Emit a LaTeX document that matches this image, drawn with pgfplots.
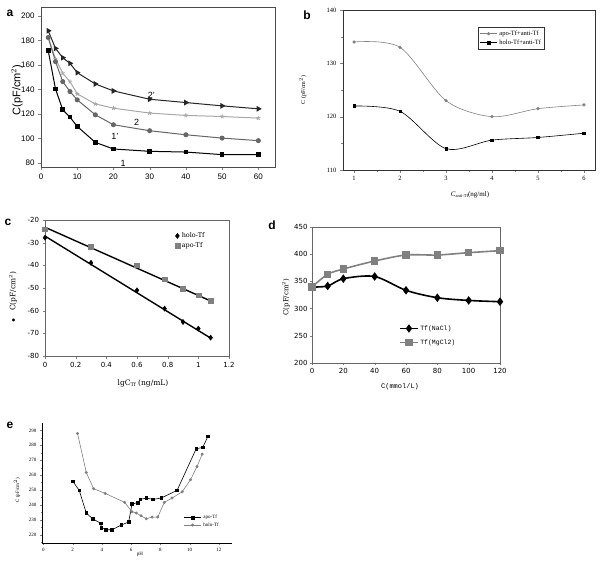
\documentclass[border=0pt]{standalone}
\usepackage{pgfplots}
\pgfplotsset{compat=1.18}
\usepackage{fontspec}
\setmainfont{Liberation Sans}
\newfontfamily\serifb{Liberation Serif}
\newfontfamily\monof{Liberation Mono}
\newfontfamily\dvs{DejaVu Sans}
\newfontfamily\dvserif{DejaVu Serif}
\definecolor{mgray}{HTML}{808080}
\definecolor{dgray}{HTML}{666666}
\definecolor{lgray}{HTML}{A8A8A8}
\begin{document}
\begin{tikzpicture}
\path[use as bounding box] (0pt,0pt) rectangle (600pt,563pt);
% ---------------- panel a
\begin{axis}[at={(41pt,396pt)}, anchor=south west, scale only axis,
  width=234pt, height=160pt,
  xmin=0, xmax=64.6, ymin=76.7, ymax=207.3,
  xtick={0,10,...,60}, ytick={80,100,...,200},
  tick align=outside, xtick pos=bottom, ytick pos=left,
  axis line style={black!70}, major tick length=3pt,
  /pgf/number format/assume math mode=true,
  tick label style={font=\fontsize{8}{9}\selectfont},
  every axis plot/.append style={line width=1pt}]
\addplot[black, mark=square*, mark size=1.8pt] coordinates {
 (2,171.6) (4,140.4) (6,123.4) (8,117.4) (10,109.8) (15,96.8) (20,91.4) (30,89.5) (40,88.9) (50,86.8) (60,86.8)};
\addplot[lgray, mark=star, mark size=2.2pt, mark options={lgray, line width=0.8pt}] coordinates {
 (2,182.4) (4,165) (6,153.2) (8,146.4) (10,136.4) (15,128.2) (20,124.7) (30,120.7) (40,118.8) (50,117.9) (60,116.6)};
\addplot[dgray, mark=*, mark size=2pt] coordinates {
 (2,182.4) (4,162.7) (6,146.4) (8,138.3) (10,131.5) (15,119.3) (20,111.2) (30,106.3) (40,103) (50,100.3) (60,98.2)};
\addplot[black!85, mark=triangle*, mark size=2.4pt, mark options={rotate=-90}] coordinates {
 (2,187.9) (4,173.5) (6,165.9) (8,161.3) (10,153.7) (15,144.5) (20,138.8) (30,132) (40,129.3) (50,126.6) (60,124.2)};
\node[font=\fontsize{9}{10}\selectfont] at (axis cs:30.5,135) {2'};
\node[font=\fontsize{9}{10}\selectfont] at (axis cs:26.4,113) {2};
\node[font=\fontsize{9}{10}\selectfont] at (axis cs:20.4,101.7) {1'};
\node[font=\fontsize{9}{10}\selectfont] at (axis cs:22.7,79.5) {1};
\end{axis}
% ---------------- panel b
\begin{axis}[at={(343pt,393pt)}, anchor=south west, scale only axis,
  width=252pt, height=160pt,
  xmin=0.76, xmax=6.24, ymin=110, ymax=140,
  xtick={1,...,6}, ytick={110,120,130,140},
  minor xtick={1.5,2.5,...,5.5}, minor ytick={115,125,135},
  tick align=outside, xtick pos=bottom, ytick pos=left,
  axis line style={black!80}, major tick length=3pt, minor tick length=2pt,
  /pgf/number format/assume math mode=true,
  tick label style={font=\serifb\fontsize{6.5}{7}\selectfont},
  legend style={at={(0.536,0.894)}, anchor=north west, font=\serifb\fontsize{6.5}{7.5}\selectfont,
    draw=black!80, inner sep=1.5pt, row sep=-1pt, legend cell align=left},
  legend image post style={line width=0.6pt}]
\addplot[mgray, smooth, line width=0.6pt, mark=*, mark size=1.3pt] coordinates {
 (1,134) (2,133) (3,123) (4,120) (5,121.5) (6,122.2)};
\addlegendentry{apo-Tf+anti-Tf}
\addplot[black, smooth, line width=0.6pt, mark=square*, mark size=1.2pt] coordinates {
 (1,122) (2,121) (3,114) (4,115.6) (5,116.1) (6,116.9)};
\addlegendentry{holo-Tf+anti-Tf}
\end{axis}
% ---------------- panel c
\begin{axis}[at={(45pt,207pt)}, anchor=south west, scale only axis,
  width=184pt, height=136pt,
  xmin=0, xmax=1.2, ymin=-80, ymax=-20,
  xtick={0,0.2,...,1.2}, ytick={-80,-70,...,-20},
  tick align=outside, xtick pos=bottom, ytick pos=left,
  axis line style={black!60}, major tick length=2.5pt,
  /pgf/number format/assume math mode=true,
  xticklabel style={/pgf/number format/fixed, /pgf/number format/precision=1},
  tick label style={font=\dvs\fontsize{7}{8}\selectfont},
  legend style={at={(0.70,0.93)}, anchor=north west, draw=none, fill=none,
    font=\dvserif\fontsize{6.5}{7.5}\selectfont, inner sep=1pt, row sep=-1pt, legend cell align=left}]
\addplot[black, line width=1.4pt, forget plot] coordinates {(0,-27.1) (1.08,-72.1)};
\addplot[black, line width=1.4pt, forget plot] coordinates {(0,-23.2) (1.08,-55.7)};
\addplot[only marks, mark=diamond*, mark size=2.6pt, black] coordinates {
 (0,-27.8) (0.3,-38.9) (0.6,-51) (0.78,-59.1) (0.9,-65) (1.0,-67.9) (1.08,-71.9)};
\addlegendentry{holo-Tf}
\addplot[only marks, mark=square*, mark size=2.4pt, mgray] coordinates {
 (0,-24.1) (0.3,-31.8) (0.6,-39.9) (0.78,-46.1) (0.9,-50.2) (1.0,-53.2) (1.08,-55.7)};
\addlegendentry{apo-Tf}
\end{axis}
% ---------------- panel d
\begin{axis}[at={(312pt,200pt)}, anchor=south west, scale only axis,
  width=188pt, height=136pt,
  xmin=0, xmax=120, ymin=200, ymax=450,
  xtick={0,20,...,120}, ytick={200,250,...,450},
  tick align=outside, xtick pos=bottom, ytick pos=left,
  axis line style={black!60}, major tick length=2pt,
  /pgf/number format/assume math mode=true,
  yticklabel style={xshift=1pt},
  tick label style={font=\dvs\fontsize{7}{8}\selectfont},
  legend style={at={(0.46,0.30)}, anchor=north west, draw=none, fill=none,
    font=\monof\fontsize{6.5}{7.5}\selectfont, inner sep=1pt, row sep=4pt, legend cell align=left},
  legend image post style={line width=1.5pt}]
\addplot[black, smooth, line width=1.6pt, mark=diamond*, mark size=3pt] coordinates {
 (0,339.7) (10,341.5) (20,355) (40,359) (60,333.6) (80,320) (100,315) (120,312.7)};
\addlegendentry{Tf(NaCl)}
\addplot[mgray, smooth, line width=1.6pt, mark=square*, mark size=3pt] coordinates {
 (0,340) (10,363) (20,372.8) (40,387.5) (60,398.5) (80,398.5) (100,402.8) (120,406.5)};
\addlegendentry{Tf(MgCl2)}
\end{axis}
% ---------------- panel e
\begin{axis}[at={(42pt,20pt)}, anchor=south west, scale only axis,
  width=190pt, height=120pt,
  xmin=-0.1, xmax=12.9, ymin=214.4, ymax=295,
  xtick={0,2,...,12}, ytick={220,230,...,290},
  minor xtick={1,3,...,11}, minor ytick={215,225,...,285},
  axis lines=left, axis line style={-, black},
  tick align=outside, major tick length=2pt, minor tick length=1.2pt,
  /pgf/number format/assume math mode=true,
  tick label style={font=\serifb\fontsize{5}{5.5}\selectfont},
  legend style={at={(0.74,0.26)}, anchor=north west, draw=none, fill=none,
    font=\serifb\fontsize{5}{6}\selectfont, inner sep=1pt, row sep=-1.5pt, legend cell align=left},
  legend image post style={line width=0.6pt}]
\addplot[black, line width=0.6pt, mark=square*, mark size=1.3pt] coordinates {
 (2.01,255.8) (2.45,249.7) (2.93,234.5) (3.36,230.7) (3.93,227.6) (3.95,224.7) (4.27,223.3) (4.69,223.3) (5.33,226.5) (5.83,228.5) (6.06,240.6) (6.45,241.5) (6.63,243.7) (7.04,244.6) (7.5,243.7) (8.05,244.6) (9.14,249.7) (10.45,277.7) (10.9,278.6) (11.25,286)};
\addlegendentry{apo-Tf}
\addplot[mgray, line width=0.6pt, mark=*, mark size=1.2pt] coordinates {
 (2.33,288) (2.93,261.8) (3.43,250.9) (4.23,247.7) (5.55,241.7) (6.06,235.4) (6.35,234.5) (6.67,232.7) (7.04,230.7) (7.43,231.8) (7.82,231.8) (8.27,241.7) (8.8,244.6) (9.49,248.8) (10.06,256.9) (10.51,265.8) (10.86,274.1)};
\addlegendentry{holo-Tf}
\end{axis}
% ---------------- labels
\node[font=\bfseries\fontsize{12}{12}\selectfont] at (10pt,550pt) {a};
\node[font=\bfseries\fontsize{12}{12}\selectfont] at (307pt,548pt) {b};
\node[font=\bfseries\fontsize{12}{12}\selectfont] at (8pt,341pt) {c};
\node[font=\bfseries\fontsize{12}{12}\selectfont] at (272pt,338pt) {d};
\node[font=\bfseries\fontsize{12}{12}\selectfont] at (10pt,138pt) {e};
\node[rotate=90, font=\fontsize{11}{12}\selectfont] at (17pt,473pt) {C(pF/cm$^{2}$)};
\node[rotate=90, font=\serifb\fontsize{6}{7}\selectfont] at (303pt,473pt) {C (pF/cm$^{2}$)};
\node[font=\serifb\fontsize{7}{8}\selectfont] at (470pt,368pt) {\textit{C}\raisebox{-0.4ex}{\fontsize{4.5}{5}\selectfont anti-Tf}(ng/ml)};
\node[rotate=90, font=\dvserif\fontsize{7.5}{8.5}\selectfont] at (13pt,266pt) {$\bullet$\quad C(pF/cm$^{2}$)};
\node[font=\dvserif\fontsize{7.5}{8.5}\selectfont] at (143pt,180pt) {lgC\raisebox{-0.4ex}{\fontsize{5}{6}\selectfont Tf} (ng/mL)};
\node[rotate=90, font=\dvserif\fontsize{7}{8}\selectfont] at (286pt,266pt) {C(pF/cm$^{2}$)};
\node[font=\monof\fontsize{7}{8}\selectfont] at (400pt,176pt) {C(mmol/L)};
\node[rotate=90, font=\serifb\fontsize{5}{6}\selectfont] at (17pt,73pt) {C (pF/cm$^{2}$)};
\node[font=\serifb\fontsize{5}{6}\selectfont] at (140pt,9pt) {pH};
\end{tikzpicture}
\end{document}
